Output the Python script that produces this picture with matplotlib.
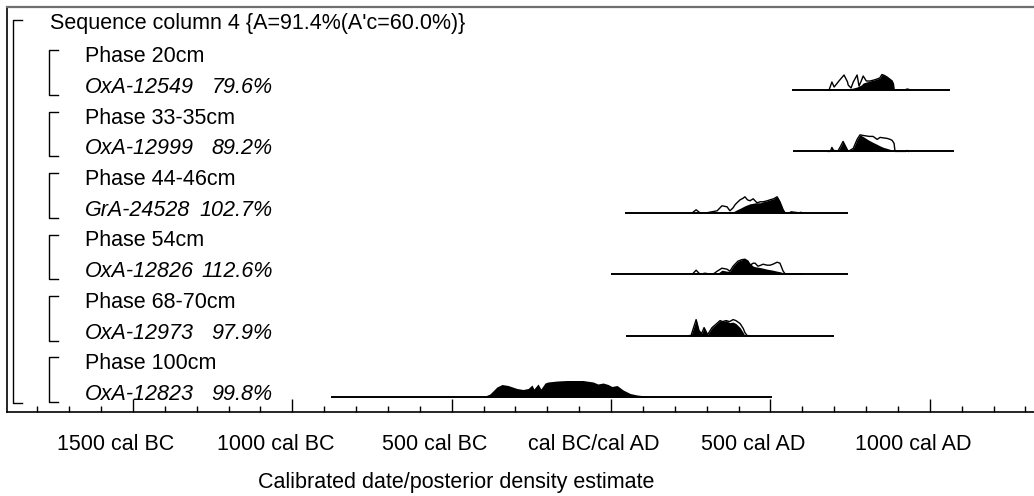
import matplotlib
matplotlib.use('Agg')
import matplotlib.pyplot as plt
from matplotlib import transforms

plt.rcParams['font.family'] = ['Liberation Sans', 'DejaVu Sans']

# ---- data (years AD, negative = BC; heights = relative density) ----
title = "Sequence column 4 {A=91.4%(A'c=60.0%)}"
phases = ['Phase 20cm', 'Phase 33-35cm', 'Phase 44-46cm', 'Phase 54cm', 'Phase 68-70cm', 'Phase 100cm']
samples = ['OxA-12549', 'OxA-12999', 'GrA-24528', 'OxA-12826', 'OxA-12973', 'OxA-12823']
agreement = ['79.6%', '89.2%', '102.7%', '112.6%', '97.9%', '99.8%']

# plotted range of each date (the horizontal baseline)
range_start = [568, 571, 44, 0, 46, -879]
range_end = [1064, 1076, 744, 744, 698, 505]

yrs_12549 = [680, 684, 693, 700, 715, 731, 742, 744, 753, 760, 772, 778, 785, 791, 801, 813, 825,
             835, 843, 850, 858, 866, 874, 882, 886, 888, 920, 930, 940]
lik_12549 = [0, 0, 8, 3, 9, 15, 8, 5, 2, 8, 15, 4, 9, 14, 9, 9, 10,
             11, 12, 15.5, 14.5, 13, 11, 9, 6, 0, 0, 1, 0]
post_12549 = [0, 0, 0, 0, 0, 0, 0, 1, 1.5, 2, 3, 4, 5, 7, 8, 9, 10,
              11, 12, 15.5, 14.5, 13, 11, 9, 6, 0, 0, 1, 0]

yrs_12999 = [680, 688, 693, 698, 712, 720, 728, 736, 744, 760, 772, 778, 781, 790, 800, 810, 822,
             835, 844, 855, 866, 876, 882, 888, 891, 895, 925, 929, 933]
lik_12999 = [0, 0, 4, 1, 0.5, 5, 10, 5, 0, 3, 12, 15, 16.5, 16, 15.5, 15, 15,
             12, 14, 13.5, 13, 12, 11, 8, 0, 0, 0, 1, 0]
post_12999 = [0, 0, 4, 1, 0.5, 5, 10, 5, 0, 3, 12, 15, 16.5, 15, 13, 11, 9,
              7, 5.5, 4, 3, 2, 1, 0.5, 0, 0, 0, 1, 0]

yrs_24528 = [255, 267, 279, 300, 333, 348, 364, 373, 383, 389, 395, 405, 414, 420, 428, 436, 446,
             452, 458, 468, 477, 490, 499, 510, 521, 530, 540, 546, 560, 565, 590, 595, 600]
lik_24528 = [0, 3, 0, 0, 2, 7, 6, 2, 5, 8, 10, 13, 14.5, 16, 13, 12, 14,
             12, 10, 11, 11, 12, 13, 14, 16, 11, 3, 0, 0, 1, 0, 0.5, 0]
post_24528 = [0, 0, 0, 0, 0, 0, 0, 0.5, 1, 2, 3, 4.5, 6, 7, 8, 9, 9.5,
              10, 10, 10, 11, 12, 13, 14, 16.5, 11, 3, 0, 0, 1, 0, 0.5, 0]

yrs_12826 = [255, 267, 279, 295, 310, 320, 333, 348, 364, 373, 383, 398, 410, 420, 430, 436,
             446, 452, 461, 470, 477, 490, 499, 508, 521, 530, 540, 546, 552, 590, 593, 600]
lik_12826 = [0, 4, 0, 1, 0, 0, 3, 6, 5, 3, 8, 13, 14.5, 15, 13, 9,
             11, 11, 8, 9, 10, 9, 9, 10, 12, 11, 3, 0.5, 0, 0, 0.5, 0]
post_12826 = [0, 0, 0, 0, 0, 0, 0.5, 4, 3, 3, 8, 13, 14.5, 15.5, 13, 11,
              8, 7.5, 7, 6.5, 6, 5, 4.5, 4, 3, 2.5, 1.5, 0.5, 0, 0, 0.5, 0]

yrs_12973 = [245, 251, 259, 267, 276, 284, 292, 303, 317, 328, 342, 350, 361, 372, 383, 392,
             405, 415, 420, 427, 432]
lik_12973 = [0, 0, 8, 16, 5, 2, 8, 1, 8, 11, 15, 14, 15, 14, 16, 15, 12, 7, 3, 0, 0]
post_12973 = [0, 0, 8, 16, 5, 2, 8, 1, 8, 11, 15, 14, 15, 13, 13.5, 12, 8, 3, 0, 0, 0]

yrs_12823 = [-420, -402, -380, -358, -342, -323, -295, -276, -260, -248, -242, -229, -220, -207,
             -198, -169, -138, -88, -56, -41, -25, -9, 3, 19, 38, 60, 82, 122, 132]
post_12823 = [0, 0, 3, 10, 12.5, 11.5, 8.5, 7.5, 8.5, 12, 8, 13, 8, 14,
              15, 16, 16.5, 16.5, 15, 13, 14, 12.5, 10.5, 11.5, 7, 3.5, 2, 0.5, 0]

dists = [
    (yrs_12549, lik_12549, post_12549),
    (yrs_12999, lik_12999, post_12999),
    (yrs_24528, lik_24528, post_24528),
    (yrs_12826, lik_12826, post_12826),
    (yrs_12973, lik_12973, post_12973),
    (yrs_12823, None, post_12823),
]

major = [-1500, -1000, -500, 0, 500, 1000]
major_labels = ['1500 cal BC', '1000 cal BC', '500 cal BC', 'cal BC/cal AD', '500 cal AD', '1000 cal AD']
minor = list(range(-1800, 1301, 100))

# ---- figure ----
fig = plt.figure(figsize=(10.34, 4.96), dpi=100)
ax = fig.add_axes([7 / 1034, 84 / 496, 1027 / 1034, 405 / 496])
ax.set_xlim(-1895, 1327)
ax.set_ylim(412, 7)  # y in screen rows, top row first

FS = 15.5


def row_y(k):
    return 400 - 30.7 * (12 - k)


ax.text(-1760, row_y(0) - 3, title, fontsize=FS, va='baseline')
ax.plot([-1848, -1876, -1876, -1848], [row_y(0) - 12, row_y(0) - 12, row_y(12) + 3, row_y(12) + 3],
        color='black', lw=1)

for i in range(len(phases)):
    yp = row_y(1 + 2 * i)
    ys = row_y(2 + 2 * i)
    ax.text(-1650, yp, phases[i], fontsize=FS, va='baseline')
    ax.text(-1650, ys, samples[i], fontsize=FS, va='baseline', style='italic')
    ax.text(-1062, ys, agreement[i], fontsize=FS, va='baseline', ha='right', style='italic')
    ax.plot([-1735, -1763, -1763, -1735], [yp - 12, yp - 12, ys + 2, ys + 2], color='black', lw=1)

    base = ys - 3
    yrs, lik, post = dists[i]
    ax.plot([range_start[i], range_end[i]], [base, base], color='black', lw=1.4,
            solid_capstyle='butt')
    ax.fill_between(yrs, base, [base - p for p in post], color='black', lw=0)
    if lik is not None:
        ax.plot(yrs, [base - v for v in lik], color='black', lw=1)

# axis
ax.set_yticks([])
ax.set_xticks(major)
ax.set_xticks(minor, minor=True)
ax.set_xticklabels([])
ax.tick_params(axis='x', which='major', direction='in', length=9.5, width=1)
ax.tick_params(axis='x', which='minor', direction='in', length=4.5, width=1)
ax.spines['right'].set_visible(False)
ax.spines['top'].set_color('#6f6f6f')
ax.spines['top'].set_linewidth(1.6)
ax.spines['left'].set_linewidth(1.2)
ax.spines['bottom'].set_linewidth(1.2)

lab_tr = transforms.offset_copy(ax.transData, fig=fig, x=-17, y=0, units='dots')
for yr, lab in zip(major, major_labels):
    ax.text(yr, 450, lab, fontsize=FS, ha='center', va='baseline', transform=lab_tr, clip_on=False)

ax.text(-486, 488, 'Calibrated date/posterior density estimate', fontsize=FS, ha='center',
        va='baseline', clip_on=False)

fig.savefig('out.png', dpi=100)
